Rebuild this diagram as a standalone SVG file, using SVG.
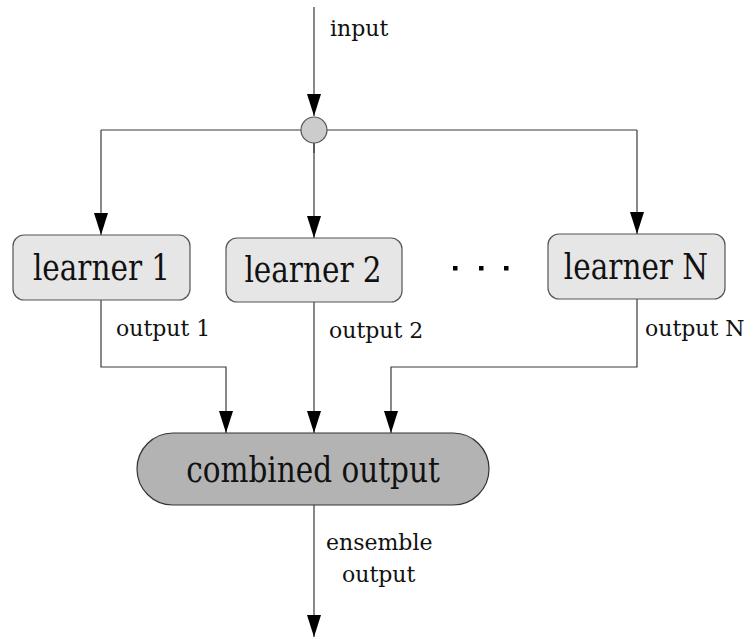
<svg xmlns="http://www.w3.org/2000/svg" width="754" height="639" viewBox="0 0 754 639">
  <style>
    .wire { fill: none; stroke: #3a3a3a; stroke-width: 1.2; }
    .learner rect { fill: #e6e6e6; stroke: #555; stroke-width: 1.2; }
    .big { font-family: "DejaVu Serif", "Liberation Serif", serif; font-size: 29.5px; fill: #111; text-anchor: middle; }
    .small { font-family: "DejaVu Serif", "Liberation Serif", serif; font-size: 22px; fill: #111; }
  </style>
  <defs>
    <marker id="arrow" viewBox="0 0 22 14" refX="22" refY="7" markerWidth="22" markerHeight="14" markerUnits="userSpaceOnUse" orient="auto">
      <path d="M0,0 L22,7 L0,14 z" fill="#000"/>
    </marker>
  </defs>

  <rect width="754" height="639" fill="#fff"/>

  <!-- connectors -->
  <g id="connectors">
    <path class="wire" d="M314,7 V116" marker-end="url(#arrow)"/>
    <path class="wire" d="M101,130 H637"/>
    <path class="wire" d="M314,143 V153"/>
    <path class="wire" d="M101,130 V235" marker-end="url(#arrow)"/>
    <path class="wire" d="M314,143 V238" marker-end="url(#arrow)"/>
    <path class="wire" d="M637,130 V234" marker-end="url(#arrow)"/>
    <path class="wire" d="M101,300 V367 H226 V433" marker-end="url(#arrow)"/>
    <path class="wire" d="M314,302 V433" marker-end="url(#arrow)"/>
    <path class="wire" d="M637,299 V367 H391 V433" marker-end="url(#arrow)"/>
    <path class="wire" d="M314,505 V637" marker-end="url(#arrow)"/>
    <text class="small" x="330" y="36">input</text>
    <text class="small" x="116" y="336">output 1</text>
    <text class="small" x="329" y="338">output 2</text>
    <text class="small" x="645" y="336">output N</text>
    <text class="small" x="326" y="550">ensemble</text>
    <text class="small" x="342" y="582">output</text>
  </g>

  <!-- split point -->
  <g id="split">
    <circle cx="314" cy="130" r="13" fill="#cccccc" stroke="#555" stroke-width="1.2"/>
  </g>

  <!-- labels are stretched vertically for a taller serif face -->
  <g id="learner1" class="learner">
    <rect x="13" y="235" width="177" height="65" rx="11"/>
    <text class="big" transform="translate(101.5,280) scale(1,1.22)">learner 1</text>
  </g>
  <g id="learner2" class="learner">
    <rect x="226" y="238" width="176" height="64" rx="11"/>
    <text class="big" transform="translate(313,282) scale(1,1.22)">learner 2</text>
  </g>
  <g id="ellipsis">
    <rect x="453" y="266" width="4.5" height="4.5" fill="#000"/>
    <rect x="479" y="266" width="4.5" height="4.5" fill="#000"/>
    <rect x="504" y="266" width="4.5" height="4.5" fill="#000"/>
  </g>
  <g id="learnerN" class="learner">
    <rect x="548" y="234" width="177" height="65" rx="11"/>
    <text class="big" transform="translate(636,279) scale(1,1.22)">learner N</text>
  </g>

  <g id="combined">
    <rect x="137" y="433" width="352" height="72" rx="36" fill="#b3b3b3" stroke="#333" stroke-width="1.2"/>
    <text class="big" transform="translate(313,482) scale(1,1.22)">combined output</text>
  </g>
</svg>
